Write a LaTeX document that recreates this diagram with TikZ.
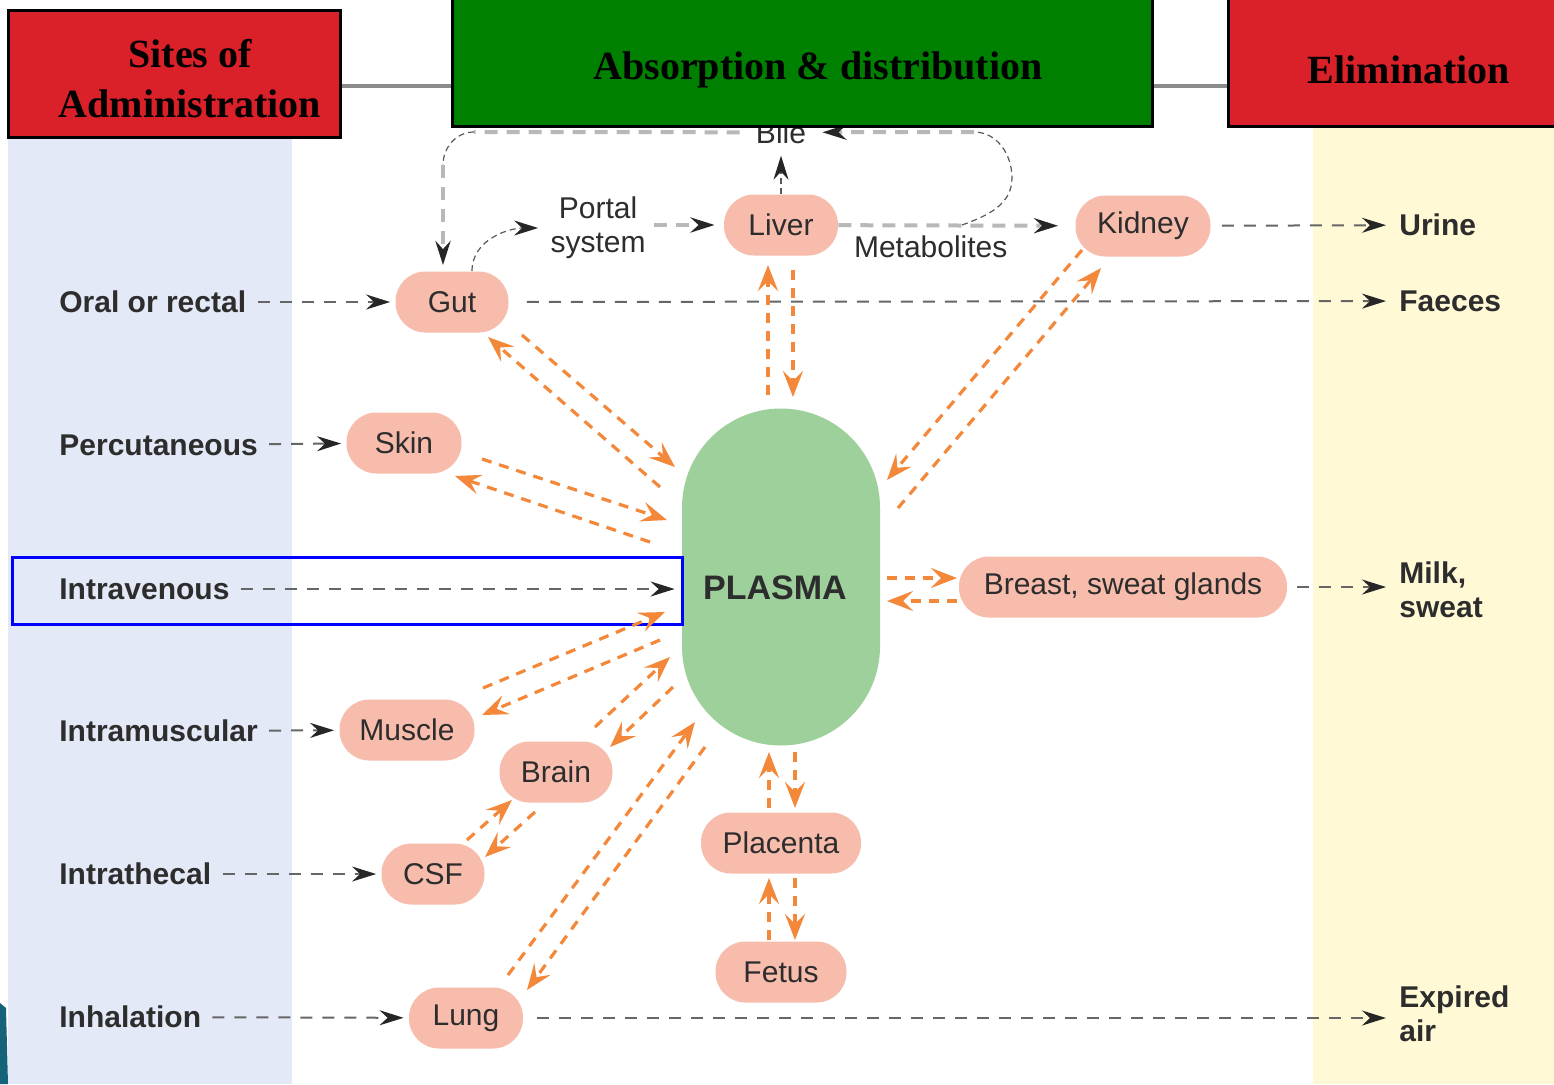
\documentclass[tikz,border=0pt]{standalone}
\usepackage{fontspec}
\setmainfont{Liberation Sans}
\newfontfamily\headfont{Liberation Serif}
\usetikzlibrary{arrows.meta,calc}

\definecolor{hdrred}{RGB}{218,32,41}
\definecolor{hdrgreen}{RGB}{0,128,0}
\definecolor{siteblue}{RGB}{227,233,246}
\definecolor{elimyellow}{RGB}{255,249,214}
\definecolor{organpink}{RGB}{247,188,172}
\definecolor{plasmagreen}{RGB}{157,208,154}
\definecolor{flowor}{RGB}{244,136,58}
\definecolor{textgray}{RGB}{45,45,45}
\definecolor{slideteal}{RGB}{22,98,120}

\tikzset{
    organ/.style={rectangle, rounded corners=15pt, fill=organpink, minimum height=30.5pt, inner sep=0pt, text=textgray, font=\fontsize{15}{18}\selectfont},
    site/.style={anchor=west, inner sep=4pt, text=textgray, font=\bfseries\fontsize{15}{17}\selectfont},
    sink/.style={site, align=left},
    note/.style={inner sep=4pt, text=textgray, align=center, font=\fontsize{15}{17}\selectfont},
    hdrbox/.style={draw=black, line width=1.5pt},
    hdrtext/.style={align=center, font=\headfont\bfseries\fontsize{20}{25}\selectfont},
    blacktip/.style={-{Stealth[length=12pt,width=7.5pt,inset=4pt,color=black!85]}},
    route/.style={blacktip, draw=black!60, line width=1pt, dash pattern=on 6pt off 5pt, shorten <=1.5pt, shorten >=2.5pt},
    bilepath/.style={draw=black!28, line width=2pt, dash pattern=on 6.5pt off 4.5pt},
    bilecurve/.style={draw=black!65, line width=.6pt, dash pattern=on 3pt off 2pt},
    flow/.style={draw=flowor, line width=1.6pt, dash pattern=on 5pt off 4pt, -{Stealth[length=13pt,width=10pt,inset=5pt]}}
}

\begin{document}
\begin{tikzpicture}[x=0.5pt, y=-0.5pt]
    \useasboundingbox (0,0) rectangle (1554,1084);
    \clip (0,0) rectangle (1554,1084);
    \fill[white] (0,0) rectangle (1554,1084);

    % columns
    \fill[siteblue] (8,137) rectangle (292,1084);
    \fill[elimyellow] (1313,127) rectangle (1554,1084);
    \fill[slideteal] (0,1003) -- (6,1008) -- (8,1084) -- (0,1084) -- cycle;
    \draw[black!45, line width=2pt] (340,86) -- (1228,86);

    % organs
    \node[organ, minimum width=56.5pt] (gut) at (452,302) {Gut};
    \node[organ, minimum width=57.5pt] (skin) at (404,443) {Skin};
    \node[organ, minimum width=67.5pt] (muscle) at (407,730) {Muscle};
    \node[organ, minimum width=56.5pt] (brain) at (556,772) {Brain};
    \node[organ, minimum width=51.5pt] (csf) at (433,874) {CSF};
    \node[organ, minimum width=57pt] (lung) at (466,1018) {Lung};
    \node[organ, minimum width=57pt] (liver) at (781,225) {Liver};
    \node[organ, minimum width=67.5pt] (kidney) at (1143,226) {Kidney};
    \node[organ, minimum width=164pt] (breast) at (1123,587) {Breast, sweat glands};
    \node[organ, minimum width=80pt] (placenta) at (781,843) {Placenta};
    \node[organ, minimum width=65.5pt] (fetus) at (781,972) {Fetus};
    \node[fill=plasmagreen, rounded corners=49.5pt, minimum width=99pt, minimum height=168.5pt, inner sep=0pt,
        text=textgray, font=\bfseries\fontsize{17}{20}\selectfont, text height=22pt, text depth=0pt] (plasma) at (781,577) {\hspace*{-6pt}PLASMA};

    % sites and sinks
    \node[site] (oral) at (51,302) {Oral or rectal};
    \node[site] (percut) at (51,445) {Percutaneous};
    \node[site] (iv) at (51,589) {Intravenous};
    \node[site] (im) at (51,731) {Intramuscular};
    \node[site] (ith) at (51,874) {Intrathecal};
    \node[site] (inhal) at (51,1017) {Inhalation};

    \node[sink] (urine) at (1391,225) {Urine};
    \node[sink] (faeces) at (1391,301) {Faeces};
    \node[sink] (milk) at (1391,590) {Milk,\\sweat};
    \node[sink] (expired) at (1391,1014) {Expired\\air};

    \node[note] (portal) at (598,228) {Portal\\system};
    \node[note, anchor=base, inner xsep=8pt] (bile) at (781,143) {Bile};

    \draw[blue, line width=1.5pt] (12,557) rectangle (682,624);

    % routes in and out
    \draw[route] (oral) -- (gut);
    \draw[route] (percut) -- (skin);
    \draw[route, shorten >=3.5pt] (iv.east) -- (iv.east -| plasma.west);
    \draw[route] (im) -- (muscle);
    \draw[route] (ith) -- (csf);
    \draw[route] (inhal) -- (lung);

    \draw[route, shorten <=9pt] (gut) -- (faeces);
    \draw[route, shorten <=5.5pt] (kidney) -- (urine);
    \draw[route, shorten <=5pt] (breast) -- (breast -| milk.west);
    \draw[route, shorten <=7pt] (lung) -- (lung -| expired.west);

    % portal, bile, metabolites
    \draw[bilecurve, blacktip, shorten >=2pt] ([xshift=10pt]gut.north) to[out=90, in=180] (portal.west);
    \draw[bilepath, blacktip, shorten >=4.5pt] (portal.east |- liver.west) -- (liver.west);
    \draw[bilepath, blacktip, shorten >=8.5pt] (liver) -- (kidney) node[note, pos=0.39, below] (metab) {Metabolites};
    \draw[bilecurve, blacktip, shorten >=2pt] (liver.north) -- (bile.south);

    \coordinate (mbranch) at (962,225);
    \coordinate (bendr) at (974,132);
    \coordinate (bendl) at (474,132);
    \coordinate (dropl) at (443,165);
    \draw[bilecurve] (mbranch) to[out=20, in=-90] (1012,178) to[out=90, in=0] (bendr);
    \draw[bilepath, blacktip] (bendr) -- (bile.east);
    \draw[bilepath] (bile.west) -- (bendl);
    \draw[bilecurve] (bendl) to[out=180, in=90] (dropl);
    \draw[bilepath, blacktip, shorten >=3pt] (dropl) -- (dropl |- gut.north);

    % exchange with plasma
    \draw[flow] ([shift={(-121,-90)}]plasma.center) -- ([shift={(36,35)}]gut.center);
    \draw[flow] ([shift={(70,33)}]gut.center) -- ([shift={(-106,-110)}]plasma.center);
    \draw[flow] ([shift={(78,16)}]skin.center) -- ([shift={(-114,-57)}]plasma.center);
    \draw[flow] ([shift={(-131,-35)}]plasma.center) -- ([shift={(51,33)}]skin.center);
    \draw[flow] ([shift={(-13,-182)}]plasma.center) -- ([shift={(-13,40)}]liver.center);
    \draw[flow] ([shift={(12,45)}]liver.center) -- ([shift={(12,-180)}]plasma.center);
    \draw[flow] ([shift={(-61,24)}]kidney.center) -- ([shift={(106,-97)}]plasma.center);
    \draw[flow] ([shift={(117,-69)}]plasma.center) -- ([shift={(-42,42)}]kidney.center);
    \draw[flow] ([shift={(106,1)}]plasma.center) -- ([shift={(-166,-9)}]breast.center);
    \draw[flow] ([shift={(-166,14)}]breast.center) -- ([shift={(106,24)}]plasma.center);
    \draw[flow] ([shift={(76,-42)}]muscle.center) -- ([shift={(-116,35)}]plasma.center);
    \draw[flow] ([shift={(-121,63)}]plasma.center) -- ([shift={(75,-15)}]muscle.center);
    \draw[flow] ([shift={(39,-45)}]brain.center) -- ([shift={(-111,80)}]plasma.center);
    \draw[flow] ([shift={(-108,110)}]plasma.center) -- ([shift={(54,-25)}]brain.center);
    \draw[flow] ([shift={(34,-34)}]csf.center) -- ([shift={(-44,28)}]brain.center);
    \draw[flow] ([shift={(-21,40)}]brain.center) -- ([shift={(52,-17)}]csf.center);
    \draw[flow] ([shift={(42,-43)}]lung.center) -- ([shift={(-86,145)}]plasma.center);
    \draw[flow] ([shift={(-76,170)}]plasma.center) -- ([shift={(61,-28)}]lung.center);
    \draw[flow] ([shift={(-12,-35)}]placenta.center) -- ([shift={(-12,175)}]plasma.center);
    \draw[flow] ([shift={(14,175)}]plasma.center) -- ([shift={(14,-35)}]placenta.center);
    \draw[flow] ([shift={(-12,-32)}]fetus.center) -- ([shift={(-12,35)}]placenta.center);
    \draw[flow] ([shift={(14,35)}]placenta.center) -- ([shift={(14,-32)}]fetus.center);

    % headers
    \draw[hdrbox, fill=hdrred] (8,10) rectangle (340,137);
    \node[hdrtext] (sites) at (190,79) {Sites of\\Administration};
    \draw[hdrbox, fill=hdrgreen] (452,-5) rectangle (1152,126);
    \node[hdrtext] (absorb) at (818,70) {Absorption \& distribution};
    \draw[hdrbox, fill=hdrred] (1228,-5) rectangle (1560,126);
    \node[hdrtext] (elim) at (1409,70) {Elimination};

\end{tikzpicture}
\end{document}
